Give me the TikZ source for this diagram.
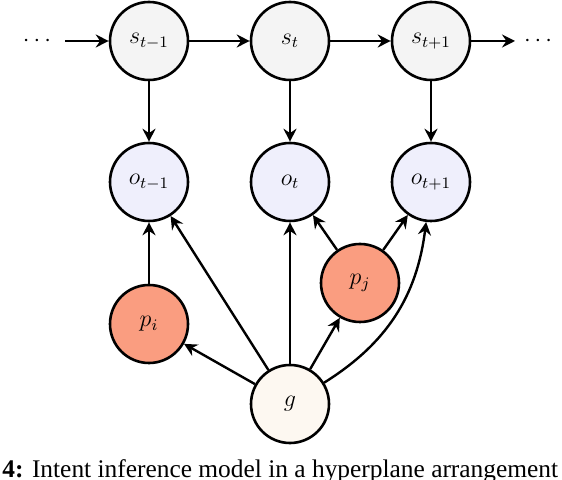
\documentclass[tikz,border=0pt]{standalone}
\usepackage{fontspec}
\newfontfamily\capfont{Liberation Serif}
\usetikzlibrary{arrows.meta}
\definecolor{sfill}{HTML}{F4F4F4}
\definecolor{ofill}{HTML}{EFEFFC}
\definecolor{pfill}{HTML}{FA9D80}
\definecolor{gfill}{HTML}{FDF8F1}
\tikzset{
  var/.style={circle, draw=black, line width=1.3pt, minimum size=39pt, inner sep=0pt, font=\large},
  snode/.style={var, fill=sfill},
  onode/.style={var, fill=ofill},
  pnode/.style={var, fill=pfill},
  gnode/.style={var, fill=gfill},
  edge/.style={line width=1.2pt, -{Stealth[length=6.5pt,width=6.5pt,inset=2.2pt]}},
}
\begin{document}
\begin{tikzpicture}[x=0.5pt,y=-0.5pt]
\useasboundingbox (0,0) rectangle (562,480);
\clip (0,0) rectangle (562,480);
\node[snode] (s1) at (149,41) {$s_{t-1}$};
\node[snode] (s2) at (290,41) {$s_t$};
\node[snode] (s3) at (431,41) {$s_{t+1}$};
\node[onode] (o1) at (149,182) {$o_{t-1}$};
\node[onode] (o2) at (290,182) {$o_t$};
\node[onode] (o3) at (431,182) {$o_{t+1}$};
\node[pnode] (pi) at (149,324) {$p_i$};
\node[pnode] (pj) at (360,283) {$p_j$};
\node[gnode] (g) at (290,404) {$g$};
\node[font=\large, inner sep=0pt] (dl) at (37,41) {$\cdots$};
\node[font=\large, inner sep=0pt] (dr) at (538,41) {$\cdots$};
\coordinate (al) at (65,41);
\coordinate (ar) at (515,41);
\draw[edge] (al) -- (s1);
\draw[edge] (s1) -- (s2);
\draw[edge] (s2) -- (s3);
\draw[edge] (s3) -- (ar);
\draw[edge] (s1) -- (o1);
\draw[edge] (s2) -- (o2);
\draw[edge] (s3) -- (o3);
\draw[edge] (pi) -- (o1);
\draw[edge] (g) -- (pi);
\draw[edge] (g) -- (o1);
\draw[edge] (g) -- (o2);
\draw[edge] (g) -- (pj);
\draw[edge] (pj) -- (o2);
\draw[edge] (pj) -- (o3);
\draw[edge] (g) to[out=32, in=-97] (o3);
\node[anchor=base west, inner sep=0pt, font=\capfont\fontsize{12.7}{14}\selectfont] (cap) at (2,477) {\textbf{4:} Intent inference model in a hyperplane arrangement};
\end{tikzpicture}
\end{document}
